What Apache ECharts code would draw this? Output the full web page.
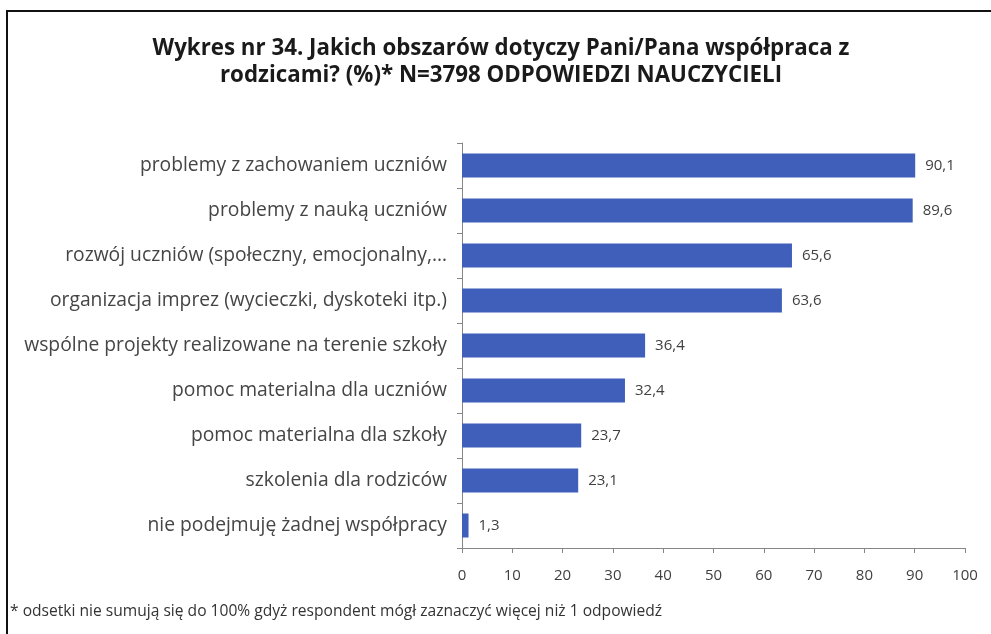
<!DOCTYPE html>
<html>
<head>
<meta charset="utf-8">
<script src="https://cdn.jsdelivr.net/npm/echarts@6/dist/echarts.min.js"></script>
<style>
  html, body { margin: 0; padding: 0; background: #fff; }
  #chart { width: 991px; height: 634px; }
</style>
</head>
<body>
<div id="chart"></div>
<script>
// Areas of cooperation with parents (% of teachers, N=3798)
const categories = [
  'problemy z zachowaniem uczniów',
  'problemy z nauką uczniów',
  'rozwój uczniów (społeczny, emocjonalny,…',
  'organizacja imprez (wycieczki, dyskoteki itp.)',
  'wspólne projekty realizowane na terenie szkoły',
  'pomoc materialna dla uczniów',
  'pomoc materialna dla szkoły',
  'szkolenia dla rodziców',
  'nie podejmuję żadnej współpracy'
];
const values = [90.1, 89.6, 65.6, 63.6, 36.4, 32.4, 23.7, 23.1, 1.3];
const titleLines = [
  'Wykres nr 34. Jakich obszarów dotyczy Pani/Pana współpraca z',
  'rodzicami? (%)* N=3798 ODPOWIEDZI NAUCZYCIELI'
];
const footnote = '* odsetki nie sumują się do 100% gdyż respondent mógł zaznaczyć więcej niż 1 odpowiedź';

const FONT = '"Open Sans", sans-serif';
const chart = echarts.init(document.getElementById('chart'), null, { renderer: 'canvas' });

chart.setOption({
  backgroundColor: '#ffffff',
  animation: false,
  title: {
    text: titleLines.join('\n'),
    left: 496,
    top: 30,
    textAlign: 'center',
    textStyle: {
      fontFamily: FONT,
      fontSize: 22.3,
      fontWeight: 'bold',
      color: '#1a1a1a',
      lineHeight: 27
    }
  },
  graphic: [
    {
      type: 'rect',
      shape: { x: 7, y: 11, width: 1000, height: 700 },
      style: { fill: 'none', stroke: '#111', lineWidth: 2 },
      silent: true
    },
    {
      type: 'text',
      left: 10,
      top: 604,
      style: {
        text: footnote,
        fontFamily: FONT,
        fontSize: 15.6,
        fill: '#333'
      }
    }
  ],
  grid: { left: 462, right: 26, top: 143, bottom: 86, containLabel: false },
  xAxis: {
    type: 'value',
    min: 0,
    max: 100,
    interval: 10,
    splitLine: { show: false },
    axisLine: { show: true, lineStyle: { color: '#868686', width: 1 } },
    axisTick: { show: true, length: 5, lineStyle: { color: '#868686' } },
    axisLabel: {
      fontFamily: FONT,
      fontSize: 15,
      color: '#404040',
      margin: 20
    }
  },
  yAxis: {
    type: 'category',
    data: categories,
    inverse: true,
    axisLine: { show: true, lineStyle: { color: '#868686', width: 1 } },
    axisTick: { show: true, length: 5, alignWithLabel: false, lineStyle: { color: '#868686' } },
    axisLabel: {
      fontFamily: FONT,
      fontSize: 19.3,
      color: '#454545',
      margin: 15
    }
  },
  series: [{
    type: 'bar',
    data: values,
    barWidth: 24,
    itemStyle: { color: '#3F5FBA' },
    label: {
      show: true,
      position: 'right',
      distance: 10,
      fontFamily: FONT,
      fontSize: 15,
      color: '#404040',
      formatter: p => String(p.value).replace('.', ',')
    }
  }]
});
</script>
</body>
</html>
